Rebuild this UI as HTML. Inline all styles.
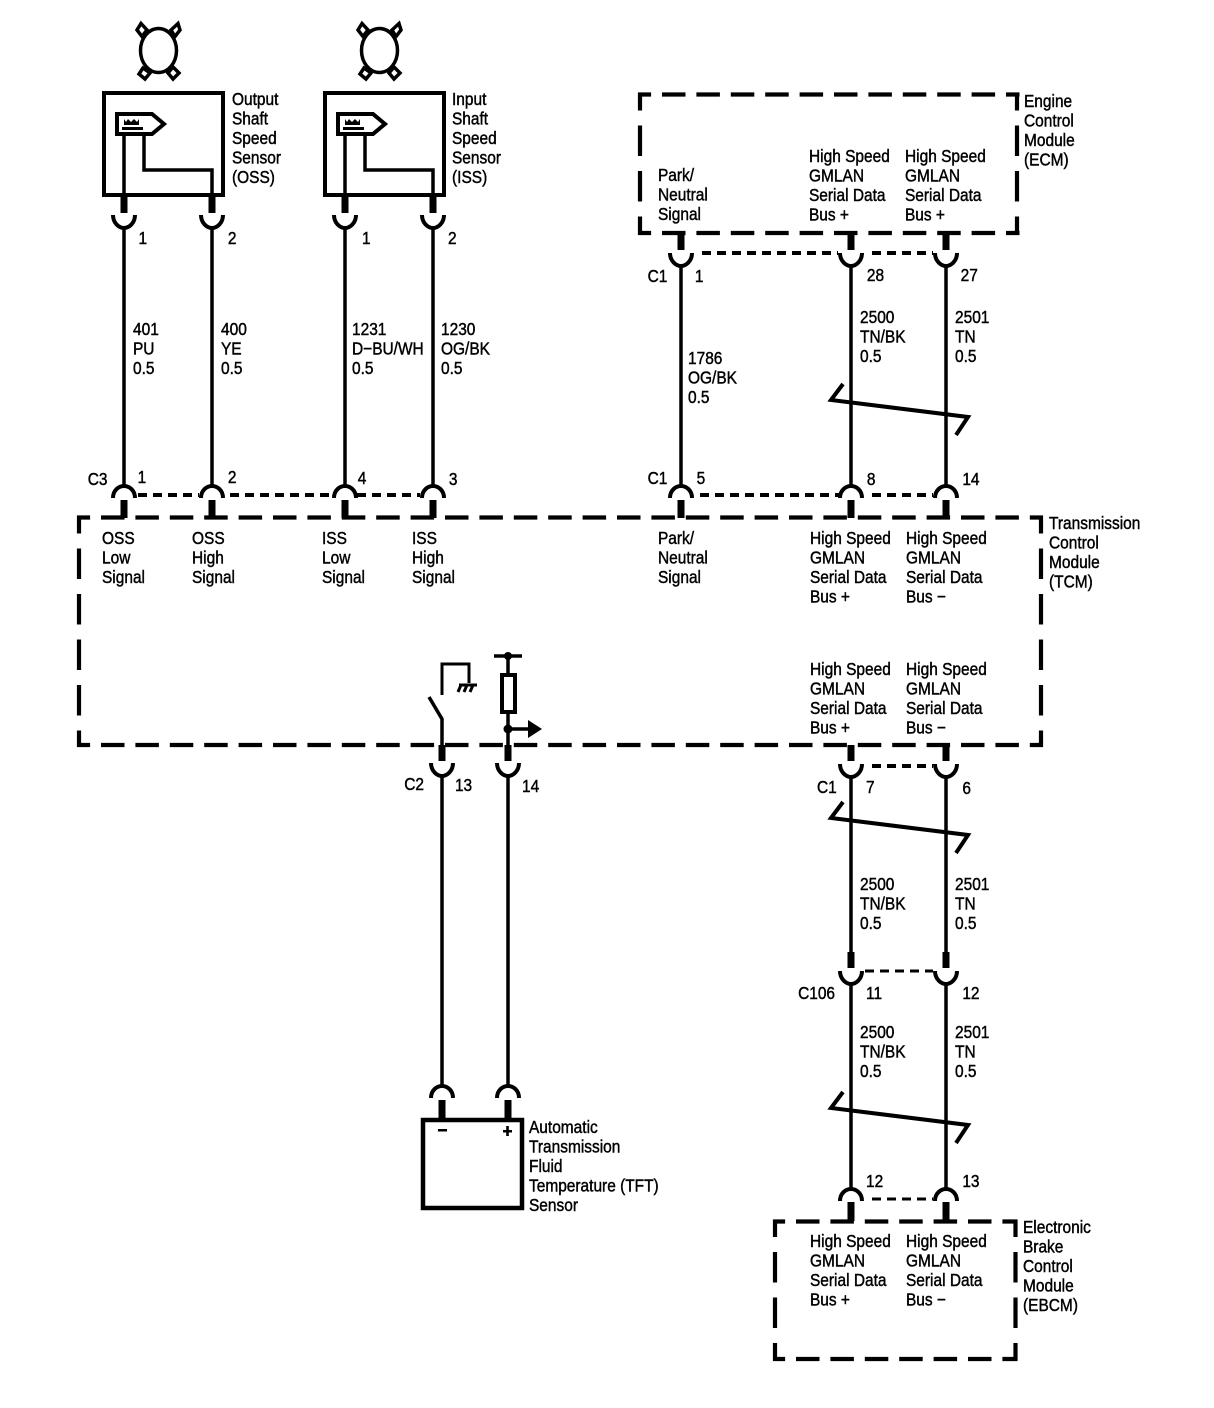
<!DOCTYPE html>
<html><head><meta charset="utf-8"><style>
html,body{margin:0;padding:0;background:#fff}
svg{display:block}
text{font-family:"Liberation Sans",sans-serif;font-size:18px;fill:#000;stroke:#000;stroke-width:.45}
.w{fill:none;stroke:#000;stroke-width:3.5}
.b{fill:none;stroke:#000;stroke-width:4}
.h{fill:none;stroke:#000;stroke-width:4.200;stroke-dasharray:23.500 10.900}
.v{fill:none;stroke:#000;stroke-width:4.200;stroke-dasharray:30.500 15}
.s{fill:none;stroke:#000;stroke-width:4;stroke-dasharray:9 6}
.t{fill:none;stroke:#000;stroke-width:7}
</style></head><body>
<svg width="1214" height="1408" viewBox="0 0 1214 1408" xmlns="http://www.w3.org/2000/svg">
<defs>
<g id="u"><path class="b" d="M-11,-12 C-11,-4 -5,1 0,1 C5,1 11,-4 11,-12"/></g>
<g id="a"><path class="b" d="M-11,11 C-11,3 -5,-1 0,-1 C5,-1 11,3 11,11"/></g>
<g id="sns"><path class="b" d="M117,114 H152 L164,124 L152,134 H117 Z"/><path d="M124,119 l2,3 l2,-3 l3,3 l3,-3 l3,3 l2,-3 v6 h-15 Z M122,127 h21 v3 h-21 Z" fill="#000"/></g>
<g id="osk"><path fill="none" stroke="#000" stroke-width="3.500" d="M141,23.500 L137,30 L142,36.500 L147,30 Z M178,23.500 L171,30 L175,36.500 L180,30 Z M143,68 L139,74 L145,79 L150,73 Z M173,67 L168,73 L173,79 L179,73 Z"/><ellipse cx="158.500" cy="50.500" rx="18" ry="22" fill="#fff" stroke="#000" stroke-width="3.500"/></g>
<g id="skew"><path class="b" d="M843,-16 L831,0 L968,17 L956,35"/></g>
</defs>

<!-- sensors -->
<use href="#osk"/><use href="#osk" x="221"/>
<rect x="104" y="93" width="119" height="102" class="b"/>
<rect x="325" y="93" width="119" height="102" class="b"/>
<use href="#sns"/><use href="#sns" x="221"/>
<path class="w" d="M124,134V195M144,134V170H212V195"/>
<path class="w" d="M345,134V195M365,134V170H433V195"/>

<!-- ECM box -->
<path class="h" stroke-dashoffset="10.400" d="M638,94.500H1019.500"/>
<path class="h" stroke-dashoffset="10.400" d="M638,233H1019.500"/>
<path class="v" stroke-dashoffset="12.500" d="M640,92.500V235"/>
<path class="v" stroke-dashoffset="12.500" d="M1017,92.500V235"/>
<!-- TCM box -->
<path class="h" stroke-dashoffset="10.400" d="M77,517.500H1043"/>
<path class="h" stroke-dashoffset="10.400" d="M77,745H1043"/>
<path class="v" stroke-dashoffset="12.500" d="M79,515.500V747"/>
<path class="v" stroke-dashoffset="12.500" d="M1041,515.500V747"/>
<!-- EBCM box -->
<path class="h" stroke-dashoffset="11.900" d="M773.500,1221.500H1017.500"/>
<path class="h" stroke-dashoffset="11.900" d="M773.500,1359H1017.500"/>
<path class="v" stroke-dashoffset="13" d="M775,1219.500V1361"/>
<path class="v" stroke-dashoffset="13" d="M1015.500,1219.500V1361"/>

<rect x="423" y="1120" width="99" height="88" stroke="#000" stroke-width="4.500" fill="none"/>

<!-- thick stubs -->
<path class="t" d="M124,195V213M212,195V213M345,195V213M433,195V213
M681,234V250M851,234V250M946,234V250
M124,500V518M212,500V518M345,500V518M433,500V518
M681,500V518M851,500V518M946,500V518
M442,745V761M508,745V761M851,745V761M946,745V761
M851,952V968M946,952V968
M851,1202V1221M946,1202V1221
M442,1100V1120M508,1100V1120"/>

<!-- wires -->
<path class="w" d="M124,228V485M212,228V485M345,228V485M433,228V485
M681,267V485M851,267V485M946,267V485
M851,777V952M946,777V952M851,985V1188M946,985V1188
M442,777V1085M508,777V1085"/>

<!-- connectors -->
<use href="#u" x="124" y="227"/><use href="#u" x="212" y="227"/><use href="#u" x="345" y="227"/><use href="#u" x="433" y="227"/>
<use href="#u" x="681" y="265"/><use href="#u" x="851" y="265"/><use href="#u" x="946" y="265"/>
<use href="#a" x="124" y="487"/><use href="#a" x="212" y="487"/><use href="#a" x="345" y="487"/><use href="#a" x="433" y="487"/>
<use href="#a" x="681" y="487"/><use href="#a" x="851" y="487"/><use href="#a" x="946" y="487"/>
<use href="#u" x="442" y="775"/><use href="#u" x="508" y="775"/><use href="#u" x="851" y="776"/><use href="#u" x="946" y="776"/>
<use href="#u" x="851" y="983"/><use href="#u" x="946" y="983"/>
<use href="#a" x="851" y="1190"/><use href="#a" x="946" y="1190"/>
<use href="#a" x="442" y="1087"/><use href="#a" x="508" y="1087"/>

<!-- connector dashes -->
<path class="s" d="M138,495H199M230,495H332M357,495H420M700,495H839M872,495H933M702,253H838M872,253H933M872,766H933"/>
<path d="M865,971H933M872,1199H933" fill="none" stroke="#000" stroke-width="3" stroke-dasharray="9 6"/>

<!-- skew marks -->
<use href="#skew" y="400"/><use href="#skew" y="818"/><use href="#skew" y="1108"/>

<!-- switch & pullup -->
<path d="M442,695V664H469V683" fill="none" stroke="#000" stroke-width="3"/>
<path d="M459,685H477M461,685l-3,7M467,685l-3,7M473,685l-3,7" fill="none" stroke="#000" stroke-width="3"/>
<path class="w" d="M429,697L442,719V745"/>
<path class="w" d="M494,656H522"/>
<circle cx="508" cy="656" r="4"/>
<path class="w" d="M508,656V675M508,712V745M508,729H528"/>
<rect x="502" y="675" width="13" height="37" class="b"/>
<circle cx="508" cy="729" r="4.500"/>
<path d="M528,720L542,729L528,738Z"/>
<path d="M438,1129h9v2.500h-9ZM503,1130h9v2.500h-9ZM506.200,1126h2.600v10h-2.600Z"/>

<!-- text -->
<g transform="translate(232,105) scale(.86 1)"><text><tspan x="0">Output</tspan><tspan x="0" dy="19.500">Shaft</tspan><tspan x="0" dy="19.500">Speed</tspan><tspan x="0" dy="19.500">Sensor</tspan><tspan x="0" dy="19.500">(OSS)</tspan></text></g>
<g transform="translate(452,105) scale(.86 1)"><text><tspan x="0">Input</tspan><tspan x="0" dy="19.500">Shaft</tspan><tspan x="0" dy="19.500">Speed</tspan><tspan x="0" dy="19.500">Sensor</tspan><tspan x="0" dy="19.500">(ISS)</tspan></text></g>
<g transform="translate(1024,107) scale(.86 1)"><text><tspan x="0">Engine</tspan><tspan x="0" dy="19.500">Control</tspan><tspan x="0" dy="19.500">Module</tspan><tspan x="0" dy="19.500">(ECM)</tspan></text></g>
<g transform="translate(658,181) scale(.86 1)"><text><tspan x="0">Park/</tspan><tspan x="0" dy="19.500">Neutral</tspan><tspan x="0" dy="19.500">Signal</tspan></text></g>
<g transform="translate(809,162) scale(.86 1)"><text><tspan x="0">High Speed</tspan><tspan x="0" dy="19.500">GMLAN</tspan><tspan x="0" dy="19.500">Serial Data</tspan><tspan x="0" dy="19.500">Bus +</tspan></text></g>
<g transform="translate(905,162) scale(.86 1)"><text><tspan x="0">High Speed</tspan><tspan x="0" dy="19.500">GMLAN</tspan><tspan x="0" dy="19.500">Serial Data</tspan><tspan x="0" dy="19.500">Bus +</tspan></text></g>

<g transform="translate(133,335) scale(.86 1)"><text><tspan x="0">401</tspan><tspan x="0" dy="19.500">PU</tspan><tspan x="0" dy="19.500">0.5</tspan></text></g>
<g transform="translate(221,335) scale(.86 1)"><text><tspan x="0">400</tspan><tspan x="0" dy="19.500">YE</tspan><tspan x="0" dy="19.500">0.5</tspan></text></g>
<g transform="translate(352,335) scale(.86 1)"><text><tspan x="0">1231</tspan><tspan x="0" dy="19.500">D−BU/WH</tspan><tspan x="0" dy="19.500">0.5</tspan></text></g>
<g transform="translate(441,335) scale(.86 1)"><text><tspan x="0">1230</tspan><tspan x="0" dy="19.500">OG/BK</tspan><tspan x="0" dy="19.500">0.5</tspan></text></g>
<g transform="translate(688,364) scale(.86 1)"><text><tspan x="0">1786</tspan><tspan x="0" dy="19.500">OG/BK</tspan><tspan x="0" dy="19.500">0.5</tspan></text></g>
<g transform="translate(860,323) scale(.86 1)"><text><tspan x="0">2500</tspan><tspan x="0" dy="19.500">TN/BK</tspan><tspan x="0" dy="19.500">0.5</tspan></text></g>
<g transform="translate(955,323) scale(.86 1)"><text><tspan x="0">2501</tspan><tspan x="0" dy="19.500">TN</tspan><tspan x="0" dy="19.500">0.5</tspan></text></g>
<g transform="translate(860,890) scale(.86 1)"><text><tspan x="0">2500</tspan><tspan x="0" dy="19.500">TN/BK</tspan><tspan x="0" dy="19.500">0.5</tspan></text></g>
<g transform="translate(955,890) scale(.86 1)"><text><tspan x="0">2501</tspan><tspan x="0" dy="19.500">TN</tspan><tspan x="0" dy="19.500">0.5</tspan></text></g>
<g transform="translate(860,1038) scale(.86 1)"><text><tspan x="0">2500</tspan><tspan x="0" dy="19.500">TN/BK</tspan><tspan x="0" dy="19.500">0.5</tspan></text></g>
<g transform="translate(955,1038) scale(.86 1)"><text><tspan x="0">2501</tspan><tspan x="0" dy="19.500">TN</tspan><tspan x="0" dy="19.500">0.5</tspan></text></g>

<g transform="translate(1049,529) scale(.86 1)"><text><tspan x="0">Transmission</tspan><tspan x="0" dy="19.500">Control</tspan><tspan x="0" dy="19.500">Module</tspan><tspan x="0" dy="19.500">(TCM)</tspan></text></g>
<g transform="translate(102,544) scale(.86 1)"><text><tspan x="0">OSS</tspan><tspan x="0" dy="19.500">Low</tspan><tspan x="0" dy="19.500">Signal</tspan></text></g>
<g transform="translate(192,544) scale(.86 1)"><text><tspan x="0">OSS</tspan><tspan x="0" dy="19.500">High</tspan><tspan x="0" dy="19.500">Signal</tspan></text></g>
<g transform="translate(322,544) scale(.86 1)"><text><tspan x="0">ISS</tspan><tspan x="0" dy="19.500">Low</tspan><tspan x="0" dy="19.500">Signal</tspan></text></g>
<g transform="translate(412,544) scale(.86 1)"><text><tspan x="0">ISS</tspan><tspan x="0" dy="19.500">High</tspan><tspan x="0" dy="19.500">Signal</tspan></text></g>
<g transform="translate(658,544) scale(.86 1)"><text><tspan x="0">Park/</tspan><tspan x="0" dy="19.500">Neutral</tspan><tspan x="0" dy="19.500">Signal</tspan></text></g>
<g transform="translate(810,544) scale(.86 1)"><text><tspan x="0">High Speed</tspan><tspan x="0" dy="19.500">GMLAN</tspan><tspan x="0" dy="19.500">Serial Data</tspan><tspan x="0" dy="19.500">Bus +</tspan></text></g>
<g transform="translate(906,544) scale(.86 1)"><text><tspan x="0">High Speed</tspan><tspan x="0" dy="19.500">GMLAN</tspan><tspan x="0" dy="19.500">Serial Data</tspan><tspan x="0" dy="19.500">Bus −</tspan></text></g>
<g transform="translate(810,675) scale(.86 1)"><text><tspan x="0">High Speed</tspan><tspan x="0" dy="19.500">GMLAN</tspan><tspan x="0" dy="19.500">Serial Data</tspan><tspan x="0" dy="19.500">Bus +</tspan></text></g>
<g transform="translate(906,675) scale(.86 1)"><text><tspan x="0">High Speed</tspan><tspan x="0" dy="19.500">GMLAN</tspan><tspan x="0" dy="19.500">Serial Data</tspan><tspan x="0" dy="19.500">Bus −</tspan></text></g>
<g transform="translate(810,1247) scale(.86 1)"><text><tspan x="0">High Speed</tspan><tspan x="0" dy="19.500">GMLAN</tspan><tspan x="0" dy="19.500">Serial Data</tspan><tspan x="0" dy="19.500">Bus +</tspan></text></g>
<g transform="translate(906,1247) scale(.86 1)"><text><tspan x="0">High Speed</tspan><tspan x="0" dy="19.500">GMLAN</tspan><tspan x="0" dy="19.500">Serial Data</tspan><tspan x="0" dy="19.500">Bus −</tspan></text></g>
<g transform="translate(1023,1233) scale(.86 1)"><text><tspan x="0">Electronic</tspan><tspan x="0" dy="19.500">Brake</tspan><tspan x="0" dy="19.500">Control</tspan><tspan x="0" dy="19.500">Module</tspan><tspan x="0" dy="19.500">(EBCM)</tspan></text></g>
<g transform="translate(529,1133) scale(.86 1)"><text><tspan x="0">Automatic</tspan><tspan x="0" dy="19.500">Transmission</tspan><tspan x="0" dy="19.500">Fluid</tspan><tspan x="0" dy="19.500">Temperature (TFT)</tspan><tspan x="0" dy="19.500">Sensor</tspan></text></g>

<!-- pin labels -->
<g transform="scale(.86 1)">
<text x="161" y="244">1</text><text x="265" y="244">2</text><text x="421" y="244">1</text><text x="521" y="244">2</text>
<text x="753" y="282">C1</text><text x="808" y="282">1</text><text x="1008" y="281">28</text><text x="1117" y="281">27</text>
<text x="102" y="485">C3</text><text x="160" y="483">1</text><text x="265" y="483">2</text><text x="416" y="484">4</text><text x="522" y="485">3</text>
<text x="753" y="484">C1</text><text x="810" y="484">5</text><text x="1008" y="485">8</text><text x="1119" y="485">14</text>
<text x="470" y="790">C2</text><text x="529" y="791">13</text><text x="607" y="792">14</text>
<text x="950" y="793">C1</text><text x="1007" y="793">7</text><text x="1119" y="794">6</text>
<text x="928" y="999">C106</text><text x="1007" y="999">11</text><text x="1119" y="999">12</text>
<text x="1007" y="1187">12</text><text x="1119" y="1187">13</text>
</g>
</svg>
</body></html>
